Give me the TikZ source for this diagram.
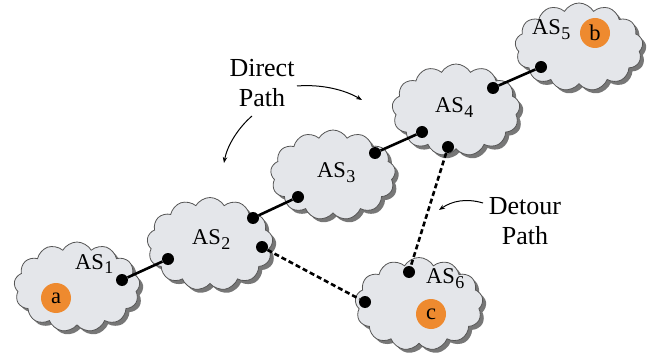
\documentclass[tikz,border=0pt]{standalone}
\usepackage{fontspec}
\setmainfont{Liberation Serif}
\usetikzlibrary{shapes.symbols,shadows,arrows.meta}
\definecolor{cloudfill}{HTML}{E4E6EA}
\definecolor{cloudline}{HTML}{555555}
\definecolor{shadowc}{HTML}{777777}
\definecolor{orng}{HTML}{EE8A2F}
\newcommand{\sbs}[1]{\kern0.5pt\raisebox{-5pt}{\fontsize{18}{18}\selectfont #1}}
\tikzset{
  ascloud/.style 2 args={cloud, cloud puffs=13, cloud puff arc=120, cloud ignores aspect,
    draw=cloudline, line width=0.8pt, fill=cloudfill, inner sep=0pt,
    minimum width=#1, minimum height=#2,
    drop shadow={shadow xshift=3.5pt, shadow yshift=-3.5pt, fill=shadowc, opacity=1}},
  aslab/.style={font=\fontsize{22.5}{26}\selectfont, inner sep=0pt, anchor=base west},
  host/.style={circle, fill=orng, inner sep=0pt, minimum size=30pt, font=\fontsize{22.5}{26}\selectfont},
  dotnode/.style={circle, fill=black, inner sep=0pt, minimum size=12pt},
  link/.style={line width=2.6pt, black},
  detour/.style={line width=2.6pt, black, dash pattern=on 5pt off 3pt},
  note/.style={font=\fontsize{26}{30}\selectfont, align=center, inner sep=0pt},
  pointer/.style={line width=1pt, -{Stealth[length=6pt,width=4.5pt]}}
}
\begin{document}
\begin{tikzpicture}[x=1pt,y=-1pt]
\useasboundingbox (0,0) rectangle (661,358);
% clouds
\node[ascloud={126pt}{90pt}] (c1) at (77,287) {};
\node[ascloud={126pt}{93pt}] (c2) at (210,244) {};
\node[ascloud={125pt}{90pt}] (c3) at (333,175) {};
\node[ascloud={128pt}{92pt}] (c4) at (456,110) {};
\node[ascloud={128pt}{88pt}] (c5) at (579,47) {};
\node[ascloud={128pt}{93pt}] (c6) at (419,304) {};
% labels
\node[aslab] (l1) at (75,269) {AS\sbs{1}};
\node[aslab] (l2) at (192,244) {AS\sbs{2}};
\node[aslab] (l3) at (317,178) {AS\sbs{3}};
\node[aslab] (l4) at (435,113) {AS\sbs{4}};
\node[aslab] (l5) at (532,35) {AS\sbs{5}};
\node[aslab] (l6) at (426,283) {AS\sbs{6}};
% hosts
\node[host] (ha) at (56,298) {a};
\node[host] (hb) at (595,33) {b};
\node[host] (hc) at (431,314) {c};
% dots
\node[dotnode] (d1) at (122,280) {};
\node[dotnode] (d2a) at (168,259) {};
\node[dotnode] (d2b) at (253,218) {};
\node[dotnode] (d2c) at (262,247) {};
\node[dotnode] (d3a) at (298,197) {};
\node[dotnode] (d3b) at (375,153) {};
\node[dotnode] (d4a) at (422,132) {};
\node[dotnode] (d4b) at (493,88) {};
\node[dotnode] (d4c) at (448,147) {};
\node[dotnode] (d5) at (541,67) {};
\node[dotnode] (d6a) at (409,272) {};
\node[dotnode] (d6b) at (365,302) {};
% links
\draw[link] (d1) -- (d2a);
\draw[link] (d2b) -- (d3a);
\draw[link] (d3b) -- (d4a);
\draw[link] (d4b) -- (d5);
\draw[detour] (d2c) -- (d6b);
\draw[detour] (d4c) -- (d6a);
% notes
\node[note] (direct) at (262,83) {Direct\\Path};
\node[note] (detourtxt) at (525,221) {Detour\\Path};
\coordinate (p1s) at (297,86);
\coordinate (p1e) at (362,100);
\coordinate (p2s) at (252,116);
\coordinate (p2e) at (224,163);
\coordinate (p3s) at (483,203);
\coordinate (p3e) at (439,210);
\draw[pointer] (p1s) .. controls (322,84) and (345,90) .. (p1e);
\draw[pointer] (p2s) .. controls (238,128) and (227,146) .. (p2e);
\draw[pointer] (p3s) .. controls (466,198) and (452,201) .. (p3e);
\end{tikzpicture}
\end{document}
